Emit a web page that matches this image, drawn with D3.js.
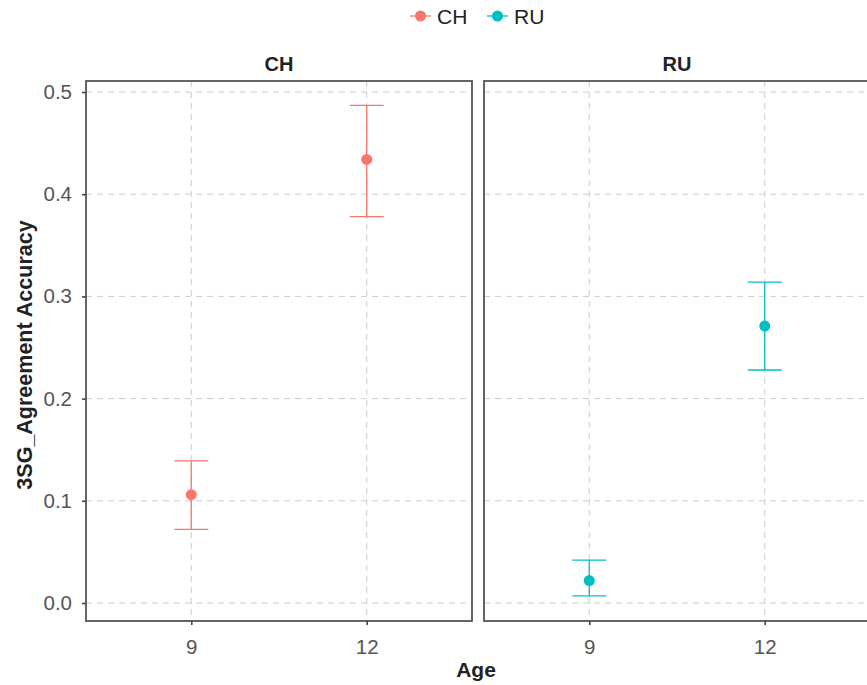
<!DOCTYPE html>
<html>
<head>
<meta charset="utf-8">
<script src="https://cdn.jsdelivr.net/npm/d3@7"></script>
<style>
  body { margin: 0; background: #fff; }
  text { font-family: "Liberation Sans", Arial, sans-serif; }
</style>
</head>
<body>
<svg id="chart"></svg>
<script>
const width = 867;
const height = 685;

const countries = ["CH", "RU"];
const ages = ["9", "12"];
const meanCH = [0.106, 0.434];
const lowCH = [0.072, 0.378];
const highCH = [0.139, 0.487];
const meanRU = [0.022, 0.271];
const lowRU = [0.007, 0.228];
const highRU = [0.042, 0.314];
const yTicks = [0, 0.1, 0.2, 0.3, 0.4, 0.5];

const colors = { CH: "#F8766D", RU: "#00BFC4" };

const data = [];
ages.forEach((a, i) => {
  data.push({ country: "CH", age: a, mean: meanCH[i], lo: lowCH[i], hi: highCH[i] });
  data.push({ country: "RU", age: a, mean: meanRU[i], lo: lowRU[i], hi: highRU[i] });
});

const svg = d3.select("#chart").attr("width", width).attr("height", height);

const panelTop = 81, panelBottom = 621;
const panelW = 386, gap = 12, panelLeft = 86;

const y = d3.scaleLinear()
  .domain([0, 0.5])
  .range([603, 92]);

// ggplot-style discrete expansion (0.6 on each side)
const x = d3.scalePoint()
  .domain(ages)
  .range([0, panelW])
  .padding(0.6);

const gridColor = "#cccccc";
const tickFont = "20.5px";

countries.forEach((c, ci) => {
  const px = panelLeft + ci * (panelW + gap);
  const g = svg.append("g").attr("transform", `translate(${px},0)`);

  // grid
  g.selectAll(".hgrid")
    .data(yTicks)
    .enter()
    .append("line")
    .attr("x1", 0)
    .attr("x2", panelW)
    .attr("y1", (d) => y(d))
    .attr("y2", (d) => y(d))
    .attr("stroke", gridColor)
    .attr("stroke-width", 1)
    .attr("stroke-dasharray", "6,5");

  g.selectAll(".vgrid")
    .data(ages)
    .enter()
    .append("line")
    .attr("x1", (d) => x(d))
    .attr("x2", (d) => x(d))
    .attr("y1", panelTop)
    .attr("y2", panelBottom)
    .attr("stroke", gridColor)
    .attr("stroke-width", 1)
    .attr("stroke-dasharray", "6,5");

  const pd = data.filter((d) => d.country === c);
  const col = colors[c];

  // error bars
  const eb = g.selectAll(".eb").data(pd).enter().append("g");
  eb.append("line")
    .attr("x1", (d) => x(d.age))
    .attr("x2", (d) => x(d.age))
    .attr("y1", (d) => y(d.lo))
    .attr("y2", (d) => y(d.hi))
    .attr("stroke", col)
    .attr("stroke-width", 1.3);
  eb.append("line")
    .attr("x1", (d) => x(d.age) - 17)
    .attr("x2", (d) => x(d.age) + 17)
    .attr("y1", (d) => y(d.lo))
    .attr("y2", (d) => y(d.lo))
    .attr("stroke", col)
    .attr("stroke-width", 1.3);
  eb.append("line")
    .attr("x1", (d) => x(d.age) - 17)
    .attr("x2", (d) => x(d.age) + 17)
    .attr("y1", (d) => y(d.hi))
    .attr("y2", (d) => y(d.hi))
    .attr("stroke", col)
    .attr("stroke-width", 1.3);
  eb.append("circle")
    .attr("cx", (d) => x(d.age))
    .attr("cy", (d) => y(d.mean))
    .attr("r", 5.5)
    .attr("fill", col);

  // panel border
  g.append("rect")
    .attr("x", 0)
    .attr("y", panelTop)
    .attr("width", panelW)
    .attr("height", panelBottom - panelTop)
    .attr("fill", "none")
    .attr("stroke", "#555")
    .attr("stroke-width", 1.8);

  // strip label
  g.append("text")
    .attr("x", panelW / 2)
    .attr("y", 71)
    .attr("text-anchor", "middle")
    .attr("font-size", "20px")
    .attr("font-weight", "bold")
    .attr("fill", "#222")
    .text(c);

  // x axis
  const xa = g.append("g")
    .attr("transform", `translate(0,${panelBottom})`)
    .call(d3.axisBottom(x).tickSize(4).tickPadding(14));
  xa.select(".domain").remove();
  xa.selectAll("line").attr("stroke", "#444").attr("stroke-width", 1.6);
  xa.selectAll("text")
    .attr("font-size", tickFont)
    .attr("fill", "#555")
    .attr("font-family", "Liberation Sans, Arial, sans-serif");

  if (ci === 0) {
    const ya = g.append("g")
      .call(d3.axisLeft(y).tickValues(yTicks).tickFormat(d3.format(".1f")).tickSize(4).tickPadding(10));
    ya.select(".domain").remove();
    ya.selectAll("line").attr("stroke", "#444").attr("stroke-width", 1.6);
    ya.selectAll("text")
      .attr("font-size", tickFont)
      .attr("fill", "#555")
      .attr("font-family", "Liberation Sans, Arial, sans-serif");
  }
});

// axis titles
svg.append("text")
  .attr("x", 476)
  .attr("y", 677)
  .attr("text-anchor", "middle")
  .attr("font-size", "21px")
  .attr("font-weight", "bold")
  .attr("fill", "#222")
  .text("Age");

svg.append("text")
  .attr("transform", `translate(32,${(panelTop + panelBottom) / 2 + 4}) rotate(-90)`)
  .attr("text-anchor", "middle")
  .attr("font-size", "21.5px")
  .attr("font-weight", "bold")
  .attr("fill", "#222")
  .text("3SG_Agreement Accuracy");

// legend
const legendX = [410, 487];
const legend = svg.selectAll(".legend-item")
  .data(countries)
  .enter()
  .append("g")
  .attr("transform", (d, i) => `translate(${legendX[i]},16)`);

legend.append("line")
  .attr("x1", 0)
  .attr("x2", 21)
  .attr("stroke", (d) => colors[d])
  .attr("stroke-width", 1.3);
legend.append("circle")
  .attr("cx", 10.5)
  .attr("r", 5.5)
  .attr("fill", (d) => colors[d]);
legend.append("text")
  .attr("x", 27)
  .attr("y", 8)
  .attr("font-size", "21px")
  .attr("fill", "#222")
  .text((d) => d);
</script>
</body>
</html>
